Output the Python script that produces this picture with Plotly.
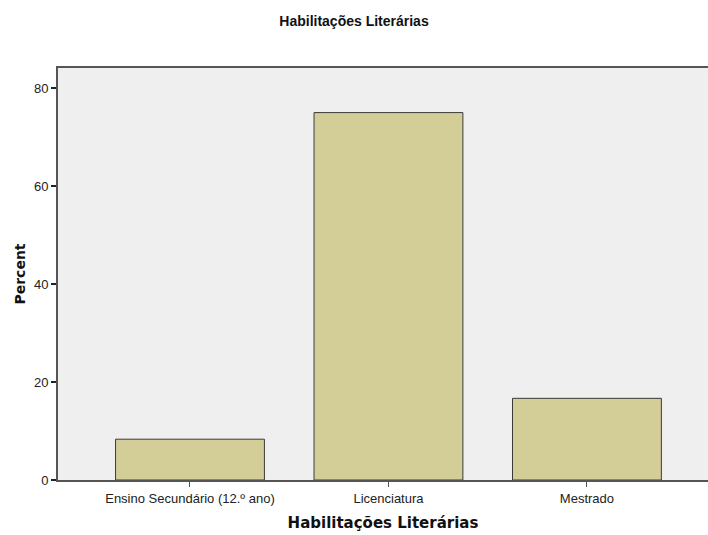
import plotly.graph_objects as go

categories = ["Ensino Secundário (12.º ano)", "Licenciatura", "Mestrado"]
percent = [8.33, 75.0, 16.67]
y_ticks = [0, 20, 40, 60, 80]

fig = go.Figure()
fig.add_trace(go.Bar(
    x=categories, y=percent, width=0.75,
    marker=dict(color="#D3CE97", line=dict(color="#3A3A3A", width=1)),
))

font = "Liberation Sans, Arial, sans-serif"
bold_font = "DejaVu Sans, sans-serif"
fig.update_layout(
    width=708, height=535,
    margin=dict(l=57.5, r=0, t=68, b=55, autoexpand=False),
    paper_bgcolor="white", plot_bgcolor="#EFEFEF",
    showlegend=False,
    font=dict(family=font, size=13, color="#222"),
    title=dict(text="<b>Habilitações Literárias</b>", x=0.5, xanchor="center",
               y=1 - 21/535, yanchor="middle", yref="container",
               font=dict(family=font, size=14, color="#111")),
)
fig.update_xaxes(
    range=[-0.665, 2.61],
    showline=True, linecolor="#555", linewidth=2, mirror=True,
    ticks="outside", ticklen=5, tickcolor="#555", tickwidth=1,
    showgrid=False, tickfont=dict(size=13, color="#222"),
    title=dict(text="<b>Habilitações Literárias</b>",
               font=dict(family=bold_font, size=15, color="#111"), standoff=13),
)
fig.update_yaxes(
    range=[0, 84.1], tickvals=y_ticks,
    showline=True, linecolor="#555", linewidth=2,
    ticks="outside", ticklen=5, tickcolor="#222", tickwidth=2,
    showgrid=False, zeroline=False, tickfont=dict(size=13, color="#222"),
    title=dict(text="<b>Percent</b>",
               font=dict(family=bold_font, size=14, color="#111"), standoff=5),
)
fig.write_html("out.html", config={"displayModeBar": False},
               post_script="document.body.style.margin='0';")
